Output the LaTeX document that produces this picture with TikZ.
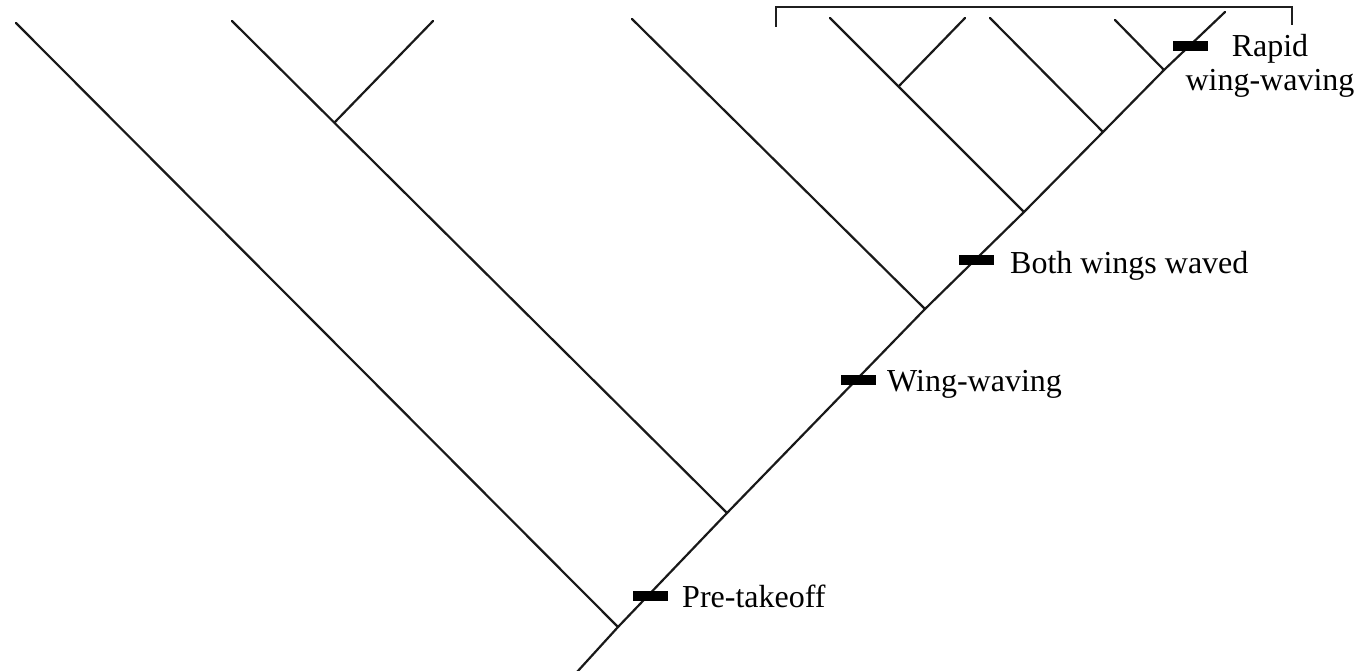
\documentclass[tikz,border=0pt]{standalone}
\usepackage{fontspec}
\setmainfont{Liberation Serif}
\begin{document}
\begin{tikzpicture}[x=1pt,y=-1pt,
  branch/.style={line width=2.2pt, draw=black!90, line cap=round},
  tickbar/.style={fill=black, draw=none, minimum width=35pt, minimum height=9.5pt, inner sep=0pt},
  charlabel/.style={font=\fontsize{32}{34}\selectfont, inner sep=0pt, text=black}]
\useasboundingbox (0,0) rectangle (1360,671);

% spine junctions, from the root upward
\coordinate (root) at (577,672);
\coordinate (j1) at (618,627);
\coordinate (j2) at (727,513);
\coordinate (j3) at (925,309);
\coordinate (j4) at (1024,212);
\coordinate (j5) at (1103,132);
\coordinate (j6) at (1164,70);
\coordinate (top) at (1225,12);

% branch tips
\coordinate (t1) at (16,23);
\coordinate (t2) at (232,21);
\coordinate (s2) at (335,122);
\coordinate (u2) at (433,21);
\coordinate (t3) at (632,19);
\coordinate (t4) at (830,18);
\coordinate (s4) at (899,86);
\coordinate (u4) at (965,18);
\coordinate (t5) at (990,18);
\coordinate (t6) at (1115,20);

% spine
\draw[branch] (root) -- (j1) -- (j2) -- (j3) -- (j4) -- (j5) -- (j6) -- (top);

% side branches
\draw[branch] (j1) -- (t1);
\draw[branch] (j2) -- (t2);
\draw[branch] (s2) -- (u2);
\draw[branch] (j3) -- (t3);
\draw[branch] (j4) -- (t4);
\draw[branch] (s4) -- (u4);
\draw[branch] (j5) -- (t5);
\draw[branch] (j6) -- (t6);

% bracket over the top group
\coordinate (bl) at (776,27);
\coordinate (br) at (1292,25);
\draw[line width=1.8pt, draw=black!88] (bl) -- (776,7) -- (1292,7) -- (br);

% character-state bars on the spine
\node[tickbar] (b1) at (650,596) {};
\node[tickbar] (b2) at (858,380) {};
\node[tickbar] (b3) at (976,260) {};
\node[tickbar] (b4) at (1190,46) {};

% labels
\node[charlabel, anchor=base west] (l1) at (682,607) {Pre-takeoff};
\node[charlabel, anchor=base west] (l2) at (887,391) {Wing-waving};
\node[charlabel, anchor=base west] (l3) at (1010,273) {Both wings waved};
\node[charlabel, anchor=base] (l4a) at (1270,57) {Rapid};
\node[charlabel, anchor=base] (l4b) at (1270,91) {wing-waving};
\end{tikzpicture}
\end{document}
